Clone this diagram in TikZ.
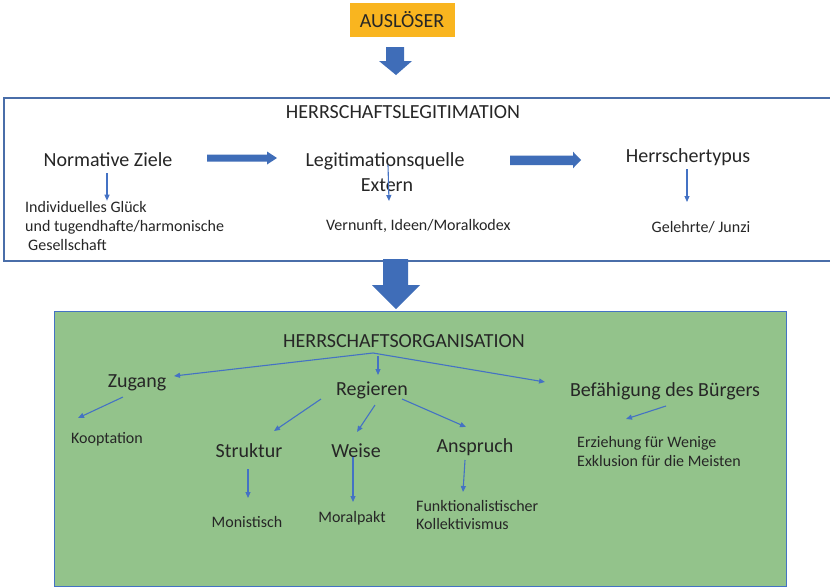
\documentclass[tikz,border=0pt]{standalone}
\usepackage{fontspec}
\setmainfont{Carlito}
\usetikzlibrary{arrows.meta}
\definecolor{ink}{HTML}{262626}
\definecolor{arrowblue}{HTML}{4472C4}
\definecolor{blockblue}{HTML}{3F6DB8}
\definecolor{frameblue}{HTML}{4A6EA9}
\definecolor{gold}{HTML}{F9B51F}
\definecolor{leaf}{HTML}{93C38B}
\tikzset{
  big/.style={inner sep=0pt, anchor=base, text=ink, font=\fontsize{20}{24}\selectfont},
  small/.style={inner sep=0pt, anchor=base, text=ink, font=\fontsize{16}{19}\selectfont},
  smallleft/.style={small, anchor=base west},
  thinarrow/.style={draw=arrowblue, line width=1.1pt, -{Triangle[length=6pt,width=5pt]}},
  blockarrow/.style={fill=blockblue, draw=none}
}
\begin{document}
\begin{tikzpicture}[x=1pt,y=-1pt]
\useasboundingbox (0,0) rectangle (830,587);

% trigger
\fill[gold] (350,3) rectangle (455,37);
\node[big] (trigger) at (402,27) {AUSLÖSER};
\fill[blockblue] (386,47) -- (404,47) -- (404,61) -- (412,61) -- (396,75)
  -- (379,61) -- (386,61) -- cycle;

% legitimation frame
\draw[frameblue, line width=1.6pt, fill=white] (834,98) -- (4,98) -- (4,261) -- (834,261);
\node[big] (legit) at (403,118) {HERRSCHAFTSLEGITIMATION};

\node[big] (goals) at (108,166) {Normative Ziele};
\node[big] (source) at (385,166) {Legitimationsquelle};
\node[big] (extern) at (387,191) {Extern};
\node[big] (ruler) at (688,162) {Herrschertypus};

\fill[blockblue] (207,154.5) -- (267,154.5) -- (267,151.5) -- (277,158)
  -- (267,164.5) -- (267,161.5) -- (207,161.5) -- cycle;
\fill[blockblue] (510,155.7) -- (573,155.7) -- (573,151.7) -- (581,160)
  -- (573,168.3) -- (573,165) -- (510,165) -- cycle;

\node[smallleft] (happy1) at (25,212) {Individuelles Glück};
\node[smallleft] (happy2) at (25,231) {und tugendhafte/harmonische};
\node[smallleft] (happy3) at (28,250) {Gesellschaft};
\node[smallleft] (reason) at (326,230) {Vernunft, Ideen/Moralkodex};
\node[small] (scholar) at (701,232) {Gelehrte/ Junzi};

\draw[thinarrow] ([shift={(-1,7)}]goals.base) -- (happy1.north -| 107,0);
\draw[thinarrow] ([shift={(3,-1)}]source.base) -- ([shift={(63,-29)}]reason.base west);
\draw[thinarrow] ([shift={(-1,7)}]ruler.base) -- ([shift={(-14,-30)}]scholar.base);

% big down arrow
\fill[blockblue] (383,259) -- (408,259) -- (408,285) -- (420,285) -- (396,309)
  -- (372,285) -- (383,285) -- cycle;

% organisation panel
\draw[arrowblue, line width=1pt, fill=leaf] (54,311) rectangle (786,586);
\node[big] (org) at (404,347) {HERRSCHAFTSORGANISATION};

\node[big] (access) at (137,387) {Zugang};
\node[big] (govern) at (372,395) {Regieren};
\node[big] (ability) at (665,396) {Befähigung des Bürgers};
\node[small] (coopt) at (107,443) {Kooptation};
\node[big] (struct) at (249,457) {Struktur};
\node[big] (manner) at (356,457) {Weise};
\node[big] (claim) at (475,452) {Anspruch};
\node[small] (monist) at (247,527) {Monistisch};
\node[small] (pact) at (352,522) {Moralpakt};
\node[smallleft] (collect1) at (416,511) {Funktionalistischer};
\node[smallleft] (collect2) at (416,529) {Kollektivismus};
\node[smallleft] (educ1) at (577,447) {Erziehung für Wenige};
\node[smallleft] (educ2) at (577,466) {Exklusion für die Meisten};

% fork below the panel title
\coordinate (fork) at ([shift={(-31,6)}]org.base);
\draw[thinarrow] (fork) -- ([shift={(37,-11)}]access.base);
\draw[thinarrow] (fork) -- ([shift={(-120,-14)}]ability.base);
\draw[thinarrow] ([shift={(-26,9)}]org.base) -- ([shift={(6,-20)}]govern.base);

\draw[thinarrow] ([shift={(-14,10)}]access.base) -- ([shift={(-29,-25)}]coopt.base);
\draw[thinarrow] ([shift={(-51,4)}]govern.base) -- ([shift={(25,-26)}]struct.base);
\draw[thinarrow] ([shift={(3,10)}]govern.base) -- ([shift={(1,-25)}]manner.base);
\draw[thinarrow] ([shift={(30,4)}]govern.base) -- ([shift={(-9,-25)}]claim.base);
\draw[thinarrow] ([shift={(1,10)}]ability.base) -- ([shift={(49,-28)}]educ1.base west);

\draw[thinarrow] ([shift={(-1,12)}]struct.base) -- ([shift={(1,-29)}]monist.base);
\draw[thinarrow] ([shift={(-3,0)}]manner.base) -- ([shift={(1,-20)}]pact.base);
\draw[thinarrow] ([shift={(-10,8)}]claim.base) -- ([shift={(47,-19)}]collect1.base west);
\end{tikzpicture}
\end{document}
